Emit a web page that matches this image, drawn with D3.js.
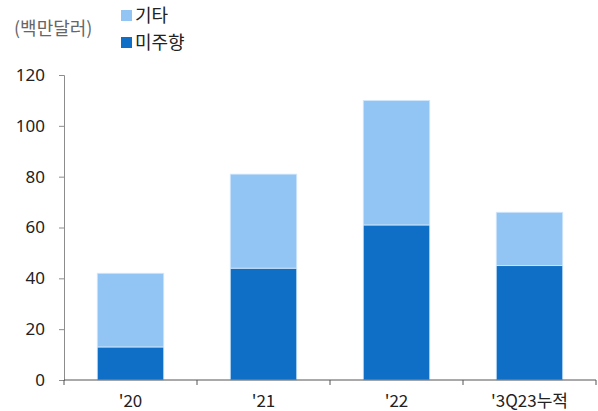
<!DOCTYPE html>
<html>
<head>
<meta charset="utf-8">
<script src="https://cdn.jsdelivr.net/npm/d3@7/dist/d3.min.js"></script>
<style>
  html, body { margin: 0; padding: 0; background: #fff; }
  svg { display: block; font-family: "Noto Sans CJK KR", "Noto Sans", sans-serif; }
</style>
</head>
<body>
<svg id="chart" width="598" height="411"></svg>
<script>
// Annual amounts (USD millions)
const categories = ["'20", "'21", "'22", "'3Q23누적"];
const americas = [13, 44, 61, 45];   // 미주향
const others = [29, 37, 49, 21];     // 기타
const yTicks = [0, 20, 40, 60, 80, 100, 120];
const seriesNames = ["미주향", "기타"];
const colors = { "미주향": "#0F6FC6", "기타": "#93C5F4" };

const svg = d3.select("#chart");
const margin = { left: 64, right: 2, top: 75, bottom: 31 };
const W = 598, H = 411;

const x = d3.scaleBand().domain(categories)
  .range([margin.left, W - margin.right]).paddingInner(0.5).paddingOuter(0.25);
const y = d3.scaleLinear().domain([0, 120]).range([H - margin.bottom, margin.top]);

const rows = categories.map((c, i) => ({ cat: c, "미주향": americas[i], "기타": others[i] }));
const stacked = d3.stack().keys(seriesNames)(rows);

svg.append("g").selectAll("g").data(stacked).join("g")
  .attr("fill", d => colors[d.key])
  .selectAll("rect").data(d => d).join("rect")
  .attr("x", d => x(d.data.cat))
  .attr("width", x.bandwidth())
  .attr("y", d => y(d[1]))
  .attr("height", d => y(d[0]) - y(d[1]))
  .attr("stroke", "#D4E8FB")
  .attr("stroke-width", 0.8);

// Y axis
const yAxis = svg.append("g").attr("transform", `translate(${margin.left},0)`)
  .call(d3.axisLeft(y).tickValues(yTicks).tickSize(5).tickPadding(14));
yAxis.select(".domain").attr("stroke", "#8c8c8c");
yAxis.selectAll(".tick line").attr("stroke", "#8c8c8c");
yAxis.selectAll("text").attr("font-size", 17).attr("fill", "#222")
  .attr("font-family", "Noto Sans, sans-serif");

// X axis with boundary ticks between categories
const xAxisG = svg.append("g").attr("transform", `translate(0,${y(0)})`);
xAxisG.append("line").attr("x1", margin.left).attr("x2", W - margin.right)
  .attr("stroke", "#555").attr("stroke-width", 1);
const bounds = d3.range(categories.length + 1).map(i => margin.left + i * (W - margin.right - margin.left) / categories.length);
xAxisG.selectAll(".bt").data(bounds).join("line")
  .attr("x1", d => d).attr("x2", d => d).attr("y1", 0).attr("y2", 5)
  .attr("stroke", "#555");
xAxisG.selectAll(".xl").data(categories).join("text")
  .attr("x", d => x(d) + x.bandwidth() / 2)
  .attr("y", 27)
  .attr("text-anchor", "middle")
  .attr("font-size", 17).attr("fill", "#222")
  .text(d => d);

// Unit label
svg.append("text").attr("x", 14).attr("y", 35)
  .attr("font-size", 18).attr("fill", "#666").text("(백만달러)");

// Legend
const legend = [{ name: "기타", y: 16 }, { name: "미주향", y: 43 }];
const lg = svg.append("g");
lg.selectAll("rect").data(legend).join("rect")
  .attr("x", 121).attr("y", d => d.y - 6).attr("width", 11).attr("height", 11)
  .attr("fill", d => colors[d.name]);
lg.selectAll("text").data(legend).join("text")
  .attr("x", 135).attr("y", d => d.y + 6)
  .attr("font-size", 18).attr("fill", "#222").text(d => d.name);
</script>
</body>
</html>
